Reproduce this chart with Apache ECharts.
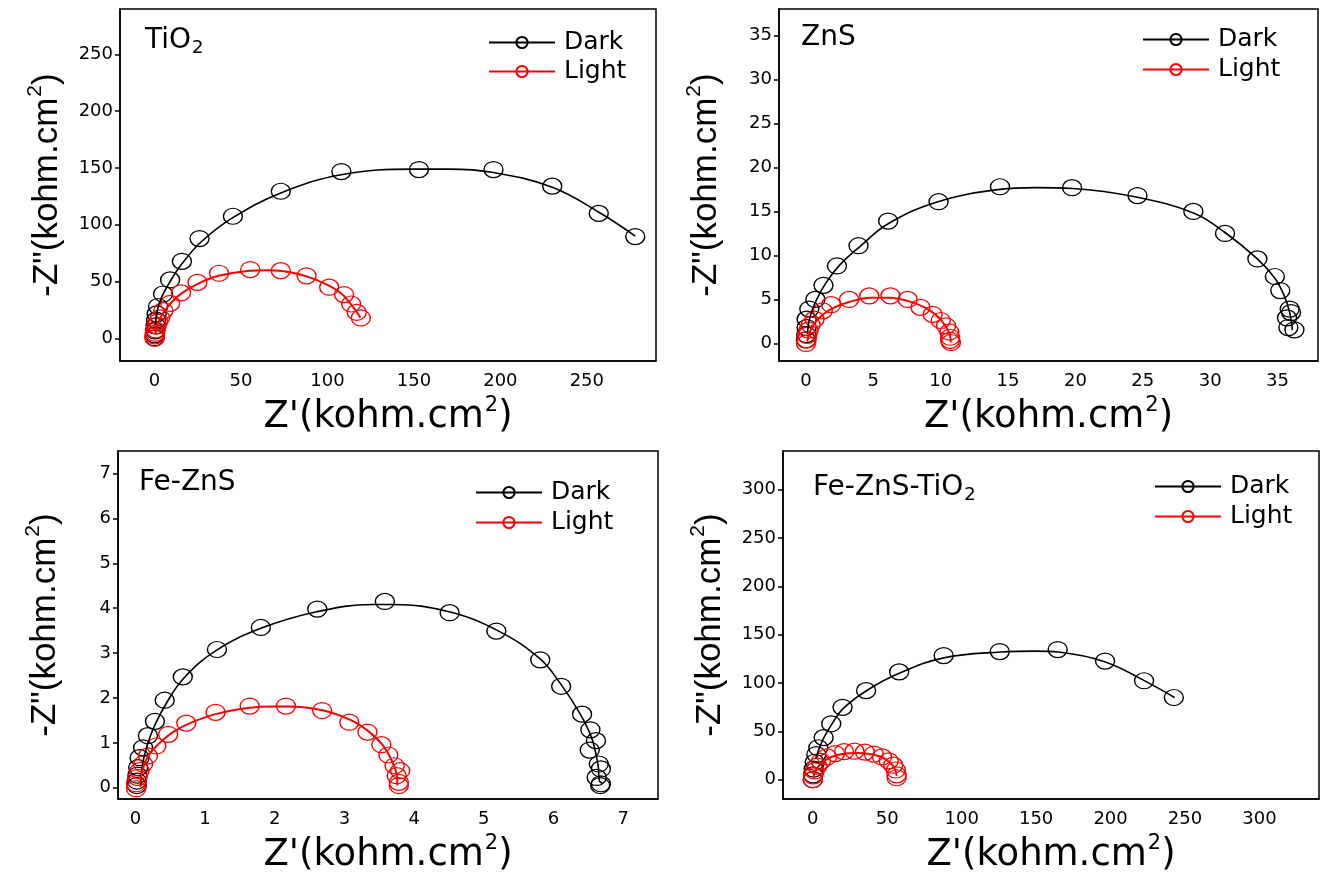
<!DOCTYPE html>
<html><head><meta charset="utf-8">
<script src="https://cdn.jsdelivr.net/npm/echarts@6/dist/echarts.min.js"></script>
<style>html,body{margin:0;padding:0;background:#fff}#c{width:1322px;height:878px}</style>
</head><body><div id="c"></div>
<script>
// ---------- data (Z', -Z'' in kohm.cm2) ----------
const tio2DarkPts = [[0,0.5],[0.1,3],[0.3,6.5],[0.6,11],[0.9,16],[1.2,21.5],[2,28],[4.9,39],[9,51.4],[15.8,67.8],[26,87.8],[45.3,107.5],[73,129.5],[108,146.8],[152.9,148.6],[196,148.6],[230,134],[256.9,110],[278,89.6]];
const tio2LightPts = [[0,0],[0.1,2],[0.3,4.5],[0.6,7.5],[1.2,11],[2,14.5],[3.2,18],[5.1,24.4],[9,30.8],[15.3,40],[24.8,49.3],[37.3,57.3],[55.3,60.5],[73,59.6],[87.9,55],[101,45],[109.6,38.5],[113.7,30.2],[116.9,22.9],[119.3,17.9]];
const tio2DarkFit = [[0.5,12],[1.5,24],[4,36],[9,50],[16,66],[27,85],[45,106],[73,128],[108,144],[150,149],[170,149],[196,146],[230,133],[257,111],[278,90]];
const tio2LightFit = [[0.5,4],[1.5,11],[3,17],[6,24.5],[10,32],[16,40],[25,48],[37,55],[55,59.5],[65,60],[75,59],[88,54.5],[100,47],[108,39.5],[113,31],[117,23],[119,18]];

const znsDarkPts = [[0,0.4],[0.02,1],[0.05,1.8],[0.05,2.75],[0.25,3.9],[0.7,5.0],[1.3,6.6],[2.3,8.8],[3.9,11.1],[6.1,13.9],[9.84,16.1],[14.4,17.8],[19.75,17.7],[24.6,16.8],[28.75,15.0],[31.1,12.5],[33.5,9.6],[34.8,7.6],[35.2,6.0],[35.9,3.9],[36.0,3.5],[35.7,2.9],[35.8,1.8],[36.25,1.54]];
const znsLightPts = [[0,0],[0.05,0.4],[0.1,0.9],[0.2,1.5],[0.35,2.1],[0.64,2.75],[1.25,3.7],[1.87,4.4],[3.2,5.0],[4.7,5.4],[6.27,5.4],[7.55,5.0],[8.5,4.1],[9.4,3.3],[10.0,2.6],[10.4,2.0],[10.64,1.3],[10.7,0.7],[10.76,0.1],[10.7,0.35]];
const znsDarkFit = [[0.1,1],[0.3,3],[0.8,5],[1.5,6.9],[2.5,8.9],[4,11],[6.1,13.6],[9.8,16.1],[14.4,17.5],[17,17.7],[19.8,17.6],[24.6,16.6],[28.8,14.8],[31.1,12.6],[33.5,9.6],[34.8,7.4],[35.5,5.4],[35.9,3.5],[36.1,1.5]];
const znsLightFit = [[0.1,0.2],[0.25,1.2],[0.6,2.2],[1.2,3.2],[2,4],[3.2,4.7],[4.8,5.2],[6.2,5.2],[7.6,4.8],[8.8,4.1],[9.6,3.3],[10.1,2.5],[10.5,1.6],[10.7,0.8],[10.75,0.1]];

const feznsDarkPts = [[0.02,0.05],[0.02,0.15],[0.03,0.28],[0.04,0.45],[0.06,0.67],[0.11,0.89],[0.18,1.16],[0.28,1.48],[0.42,1.95],[0.68,2.47],[1.17,3.08],[1.8,3.57],[2.61,3.98],[3.58,4.15],[4.51,3.9],[5.18,3.49],[5.81,2.85],[6.11,2.26],[6.41,1.64],[6.53,1.29],[6.61,1.05],[6.52,0.84],[6.65,0.53],[6.68,0.42],[6.62,0.23],[6.68,0.09],[6.67,0.05]];
const feznsLightPts = [[0.01,-0.02],[0.01,0.09],[0.03,0.23],[0.06,0.38],[0.11,0.53],[0.18,0.71],[0.30,0.93],[0.47,1.19],[0.73,1.44],[1.15,1.68],[1.64,1.82],[2.16,1.82],[2.68,1.72],[3.07,1.46],[3.33,1.24],[3.53,0.96],[3.63,0.73],[3.72,0.49],[3.8,0.38],[3.75,0.27],[3.78,0.12],[3.78,0.05]];
const feznsDarkFit = [[0.08,0.05],[0.1,0.5],[0.17,0.95],[0.28,1.4],[0.45,1.9],[0.7,2.45],[1.15,3.05],[1.8,3.55],[2.6,3.92],[3.4,4.08],[3.7,4.08],[4.5,3.92],[5.2,3.5],[5.8,2.88],[6.1,2.32],[6.38,1.65],[6.55,1.1],[6.64,0.5],[6.66,0.15],[6.7,0.1]];
const feznsLightFit = [[0.07,0.02],[0.1,0.4],[0.2,0.75],[0.35,1.0],[0.55,1.25],[0.8,1.45],[1.15,1.64],[1.64,1.78],[2.0,1.81],[2.2,1.81],[2.7,1.72],[3.1,1.5],[3.35,1.25],[3.55,0.95],[3.68,0.6],[3.75,0.3],[3.76,0.05]];

const fztDarkPts = [[0,0],[0.2,5],[0.6,11],[1.3,18],[2.4,26],[3.7,33],[7.3,43.5],[12.4,57.8],[20,74.8],[35.8,92.1],[58,111.5],[87.9,128.4],[125.6,132.5],[164.5,134.6],[196.3,122.7],[222.5,102.3],[242.5,85]];
const fztLightPts = [[0,0],[0.3,4],[1.2,9],[3,14],[5.5,19],[9.5,23.5],[15,27],[21,29],[28,29.5],[35,28.5],[41,26.5],[46.5,23.5],[51,19.5],[54,15],[55.8,10],[56.3,5],[56.3,2]];
const fztDarkFit = [[2,22],[5,35],[8,45],[13,58],[20,73],[36,92],[58,110],[88,126],[126,132],[150,133],[165,132],[196,122],[222,103],[243,85]];
const fztLightFit = [[0.5,3],[1.5,8],[3.5,13],[6.5,18],[10.5,22],[15.5,25],[22,27],[30,27.5],[38,26.5],[45,24],[50,20],[53.5,15],[55.5,10],[56.3,4]];

const tio2Ticks = [0,50,100,150,200,250];
const znsTicks = [0,5,10,15,20,25,30,35];
const feznsTicks = [0,1,2,3,4,5,6,7];
const fztTicks = [0,50,100,150,200,250,300];

const seriesNames = ['Dark','Light'];
const panelTitles = ['{a|TiO}{s|2}','{a|ZnS}','{a|Fe-ZnS}','{a|Fe-ZnS-TiO}{s|2}'];
const xTitle = "{a|Z'(kohm.cm}{s|2}{a|)}";
const yTitle = '{a|-Z"(kohm.cm}{s|2}{a|)}';

// ---------- layout ----------
const HF = '"DejaVu Sans", sans-serif';
const VF = '"Liberation Sans", Arial, sans-serif';
const panels = [
  {dark:tio2DarkPts, light:tio2LightPts, darkFit:tio2DarkFit, lightFit:tio2LightFit, xt:tio2Ticks, yt:tio2Ticks,
   xr:[-20,290], yr:[-20,290], grid:{left:120,top:9,width:536,height:352}, tpos:[145,27], lpos:[488,30], lgap:4},
  {dark:znsDarkPts, light:znsLightPts, darkFit:znsDarkFit, lightFit:znsLightFit, xt:znsTicks, yt:znsTicks,
   xr:[-2,38], yr:[-2,38], grid:{left:779,top:9,width:539,height:352}, tpos:[801,24], lpos:[1142,27], lgap:5},
  {dark:feznsDarkPts, light:feznsLightPts, darkFit:feznsDarkFit, lightFit:feznsLightFit, xt:feznsTicks, yt:feznsTicks,
   xr:[-0.25,7.5], yr:[-0.25,7.5], grid:{left:118,top:451,width:540,height:353}, tpos:[139,469], lpos:[475,480], lgap:5},
  {dark:fztDarkPts, light:fztLightPts, darkFit:fztDarkFit, lightFit:fztLightFit, xt:fztTicks, yt:fztTicks,
   xr:[-20,340], yr:[-20,340], grid:{left:783,top:451,width:536,height:352}, tpos:[813,474], lpos:[1154,474], lgap:5}
];

const grids=[], xAxes=[], yAxes=[], series=[], titles=[], legends=[];
panels.forEach((p,i)=>{
  grids.push(Object.assign({show:true, borderColor:'#000', borderWidth:1.5, backgroundColor:'transparent', containLabel:false}, p.grid));
  xAxes.push({type:'value', gridIndex:i, min:p.xr[0], max:p.xr[1],
    axisLine:{show:true, onZero:false, lineStyle:{color:'#000', width:1.5}},
    axisTick:{show:false}, splitLine:{show:false},
    axisLabel:{customValues:p.xt, color:'#000', fontSize:18, fontFamily:HF, margin:11},
    name:xTitle, nameLocation:'middle', nameGap:35,
    nameTextStyle:{color:'#000', rich:{
      a:{fontSize:37, fontFamily:HF, color:'#000', lineHeight:42, verticalAlign:'middle'},
      s:{fontSize:21, fontFamily:HF, color:'#000', lineHeight:21, padding:[0,0,23,1], verticalAlign:'middle'}}}
  });
  yAxes.push({type:'value', gridIndex:i, min:p.yr[0], max:p.yr[1],
    axisLine:{show:true, onZero:false, lineStyle:{color:'#000', width:1.5}},
    axisTick:{show:true, inside:false, length:5, customValues:p.yt, lineStyle:{color:'#000', width:1.5}},
    splitLine:{show:false},
    axisLabel:{customValues:p.yt, color:'#000', fontSize:18, fontFamily:HF, margin:7},
    name:yTitle, nameLocation:'middle', nameGap:52,
    nameTextStyle:{color:'#000', rich:{
      a:{fontSize:35, fontFamily:VF, color:'#000', lineHeight:42, verticalAlign:'middle'},
      s:{fontSize:21, fontFamily:VF, color:'#000', lineHeight:21, padding:[0,0,23,1], verticalAlign:'middle'}}}
  });
  const cols = ['#000','#ff0000'];
  const fits = [p.darkFit, p.lightFit];
  const pts = [p.dark, p.light];
  [0,1].forEach(k=>{
    series.push({type:'line', name:seriesNames[k], xAxisIndex:i, yAxisIndex:i, data:fits[k],
      smooth:0.4, showSymbol:false, symbol:'circle', symbolSize:11,
      lineStyle:{color:cols[k], width:k?2:1.6},
      itemStyle:{color:'transparent', borderColor:cols[k], borderWidth:1.2},
      z:3, silent:true});
  });
  [0,1].forEach(k=>{
    series.push({type:'scatter', name:seriesNames[k], xAxisIndex:i, yAxisIndex:i, data:pts[k],
      symbol:'circle', symbolSize:[19,16],
      itemStyle:{color:'transparent', borderColor:cols[k], borderWidth:1.3, opacity:1},
      z:2, silent:true});
  });
  titles.push({text:panelTitles[i], left:p.tpos[0], top:p.tpos[1], padding:0,
    textStyle:{fontWeight:'normal', rich:{
      a:{fontSize:28, fontWeight:'normal', fontFamily:HF, color:'#000', lineHeight:30, verticalAlign:'top'},
      s:{fontSize:18, fontWeight:'normal', fontFamily:HF, color:'#000', lineHeight:20, padding:[18,0,0,1], verticalAlign:'bottom'}}}});
  legends.push({data:seriesNames, orient:'vertical', left:p.lpos[0], top:p.lpos[1], padding:0,
    itemWidth:66, itemHeight:14, itemGap:p.lgap, selectedMode:false,
    textStyle:{fontSize:25, fontFamily:HF, color:'#000', padding:[0,0,0,4]}});
});

const chart = echarts.init(document.getElementById('c'), null, {renderer:'canvas'});
chart.setOption({animation:false, backgroundColor:'#fff',
  grid:grids, xAxis:xAxes, yAxis:yAxes, series:series, title:titles, legend:legends});
</script></body></html>
